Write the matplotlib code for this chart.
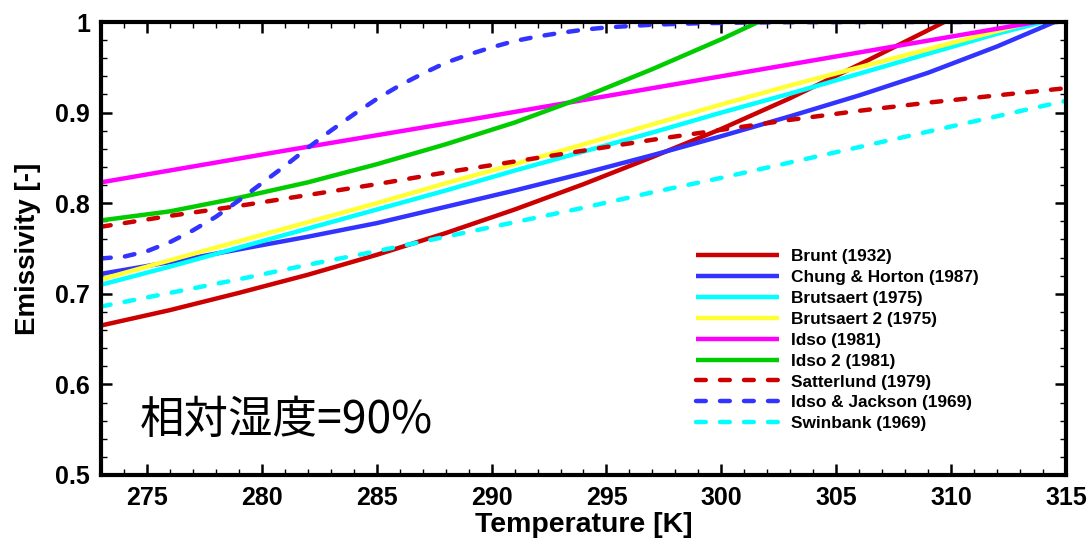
import matplotlib
matplotlib.use("Agg")
import matplotlib.pyplot as plt
from matplotlib.ticker import MultipleLocator, FuncFormatter

# Temperature grid (K) and emissivity, relative humidity 90 %
T_grid = [273, 276, 279, 282, 285, 288, 291, 294, 297, 300, 303, 306, 309, 312, 315]

brunt_T = [273, 276, 279, 282, 285, 288, 291, 294, 297, 300, 303, 306, 309, 309.7]
brunt = [0.665, 0.682, 0.701, 0.721, 0.743, 0.767, 0.793, 0.821, 0.851, 0.882, 0.916, 0.953, 0.991, 1.0]

chung_T = [273, 276, 279, 282, 285, 288, 291, 294, 297, 300, 303, 306, 309, 312, 314.5]
chung = [0.722, 0.735, 0.749, 0.763, 0.778, 0.796, 0.814, 0.833, 0.853, 0.874, 0.896, 0.919, 0.944, 0.973, 1.0]

brut_T = [273, 276, 279, 282, 285, 288, 291, 294, 297, 300, 303, 306, 309, 312, 314.0]
brut = [0.710, 0.730, 0.751, 0.772, 0.793, 0.814, 0.836, 0.857, 0.878, 0.900, 0.921, 0.943, 0.965, 0.987, 1.0]

brut2_T = [273, 276, 279, 282, 285, 288, 291, 294, 297, 300, 303, 306, 309, 312, 313.5]
brut2 = [0.716, 0.737, 0.758, 0.779, 0.800, 0.822, 0.843, 0.865, 0.887, 0.909, 0.930, 0.950, 0.970, 0.990, 1.0]

idso_T = [273, 281, 289, 297, 305, 313.7]
idso = [0.823, 0.858, 0.892, 0.927, 0.962, 1.0]

idso2_T = [273, 276, 279, 282, 285, 288, 291, 294, 297, 300, 301.6]
idso2 = [0.781, 0.791, 0.806, 0.823, 0.843, 0.865, 0.889, 0.917, 0.948, 0.981, 1.0]

satt = [0.774, 0.786, 0.797, 0.809, 0.821, 0.834, 0.846, 0.858, 0.870, 0.881, 0.892, 0.902, 0.911, 0.919, 0.927]

ij_T = [273, 274, 275, 276, 277, 278, 279, 280, 281, 282, 283, 284, 285, 286, 287,
        288, 289, 290, 291, 292, 293, 294, 295, 297, 299, 301, 303, 307, 315]
ij = [0.739, 0.741, 0.747, 0.757, 0.770, 0.785, 0.803, 0.822, 0.841, 0.861, 0.880,
      0.898, 0.915, 0.930, 0.943, 0.955, 0.964, 0.972, 0.979, 0.984, 0.988, 0.9915,
      0.994, 0.997, 0.9986, 0.9994, 0.9998, 1.0, 1.0]

swin = [0.686, 0.701, 0.716, 0.732, 0.747, 0.763, 0.779, 0.795, 0.812, 0.828, 0.845, 0.862, 0.879, 0.896, 0.913]

fig = plt.figure(figsize=(10.9, 5.43), dpi=100)
ax = fig.add_axes([101 / 1090, 1 - 475 / 543, 965 / 1090, 453 / 543])

lw = 3.2
dash = (2.2, 3.2)
series = [
    (brunt_T, brunt, "#CC0000", "-", "Brunt (1932)"),
    (chung_T, chung, "#3333FF", "-", "Chung & Horton (1987)"),
    (brut_T, brut, "#00FFFF", "-", "Brutsaert (1975)"),
    (brut2_T, brut2, "#FFFF33", "-", "Brutsaert 2 (1975)"),
    (idso_T, idso, "#FF00FF", "-", "Idso (1981)"),
    (idso2_T, idso2, "#00CC00", "-", "Idso 2 (1981)"),
    (T_grid, satt, "#CC0000", "--", "Satterlund (1979)"),
    (ij_T, ij, "#3333FF", "--", "Idso & Jackson (1969)"),
    (T_grid, swin, "#00FFFF", "--", "Swinbank (1969)"),
]
for x, y, c, ls, lab in series:
    line, = ax.plot(x, y, color=c, lw=lw, label=lab, solid_capstyle="butt")
    if ls == "--":
        line.set_dashes(dash)
        line.set_dash_capstyle("round")

ax.set_xlim(273, 315)
ax.set_ylim(0.5, 1.0)
ax.xaxis.set_major_locator(MultipleLocator(5))
ax.xaxis.set_minor_locator(MultipleLocator(1))
ax.yaxis.set_major_locator(MultipleLocator(0.1))
ax.yaxis.set_minor_locator(MultipleLocator(0.02))
ax.yaxis.set_major_formatter(FuncFormatter(lambda v, p: "%g" % round(v, 2)))

for s in ax.spines.values():
    s.set_linewidth(3)
ax.tick_params(which="both", direction="in", top=True, right=True)
ax.tick_params(which="major", length=8, width=1.8, pad=8, labelsize=18)
ax.tick_params(which="minor", length=4, width=1)
for lab in ax.get_xticklabels() + ax.get_yticklabels():
    lab.set_fontfamily("Liberation Sans")
    lab.set_fontweight("bold")

ax.set_xlabel("Temperature [K]", fontsize=20.5, fontweight="bold", family="Liberation Sans", labelpad=1)
ax.set_ylabel("Emissivity [-]", fontsize=20, fontweight="bold", family="Liberation Sans", labelpad=10)

ax.text(140 / 1090, 1 - 420 / 543, "相対湿度=90%", transform=fig.transFigure,
        fontsize=32, family=["Noto Sans CJK JP", "DejaVu Sans"], va="center", ha="left")

leg = ax.legend(loc="upper left", bbox_to_anchor=(696 / 1090, 1 - 249 / 543),
                bbox_transform=fig.transFigure, frameon=False, handlelength=4.8,
                handletextpad=0.7, labelspacing=0.34, borderpad=0, borderaxespad=0,
                prop={"family": "Liberation Sans", "weight": "bold", "size": 12.4})

fig.savefig("out.png", dpi=100)
